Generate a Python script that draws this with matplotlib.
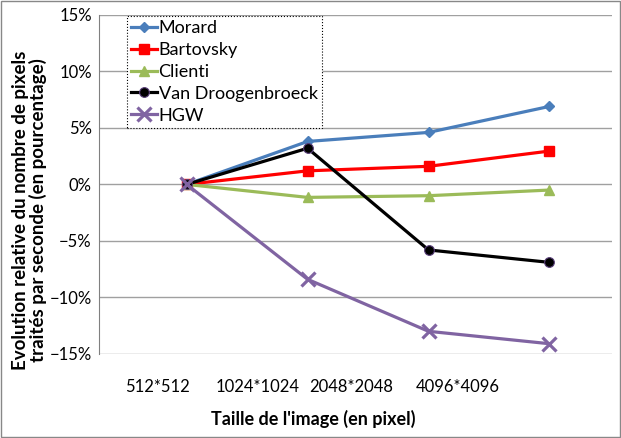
import matplotlib.pyplot as plt
from matplotlib.ticker import PercentFormatter

plt.rcParams['font.family'] = ['Lato', 'DejaVu Sans']

sizes = ['512*512', '1024*1024', '2048*2048', '4096*4096']
morard = [0.0, 3.8, 4.6, 6.9]
bartovsky = [0.0, 1.2, 1.6, 2.95]
clienti = [0.0, -1.15, -1.0, -0.5]
van_droog = [0.0, 3.2, -5.8, -6.9]
hgw = [0.0, -8.4, -13.0, -14.1]

# label positions as they sit in the original (shifted left of the points)
label_pos = [-0.24, 0.59, 1.36, 2.24]

fig = plt.figure(figsize=(6.21, 4.38), dpi=100)
ax = fig.add_axes([0.159, 0.192, 0.827, 0.774])

x = range(len(sizes))
ax.plot(x, morard, '-D', color='#4A7EBB', lw=2.3, ms=5, label='Morard', zorder=3)
ax.plot(x, bartovsky, '-s', color='#FF0000', lw=2.3, ms=6.5, label='Bartovsky', zorder=3)
ax.plot(x, clienti, '-^', color='#9BBB59', lw=2.3, ms=7, label='Clienti', zorder=3)
ax.plot(x, van_droog, '-o', color='black', mec='#5A3F7A', mew=0.8, lw=2.3, ms=7,
        label='Van Droogenbroeck', zorder=3)
ax.plot(x, hgw, '-x', color='#8064A2', lw=2.3, ms=10, mew=2.3, label='HGW', zorder=4)

ax.set_xlim(-0.727, 3.52)
ax.set_ylim(-15, 15)
ax.set_yticks(range(-15, 16, 5))
ax.yaxis.set_major_formatter(PercentFormatter(decimals=0))
ax.set_xticks(label_pos)
ax.set_xticklabels(sizes)
ax.tick_params(axis='x', length=0, pad=18, labelsize=12)
ax.tick_params(axis='y', length=0, pad=5, labelsize=12)
ax.grid(axis='y', color='#A0A0A0', lw=1)
ax.set_axisbelow(True)
for s in ['top', 'right', 'bottom']:
    ax.spines[s].set_visible(False)
ax.spines['left'].set_color('#808080')

ax.set_xlabel("Taille de l'image (en pixel)", fontweight='bold', fontsize=13)
ax.xaxis.set_label_coords(0.417, -0.165)
ax.set_ylabel('Evolution relative du nombre de pixels\ntraités par seconde (en pourcentage)',
              fontweight='bold', fontsize=13.5, linespacing=1.0)
ax.yaxis.set_label_coords(-0.1, 0.425)

leg = ax.legend(loc='upper left', bbox_to_anchor=(0.055, 0.997), borderaxespad=0,
                fancybox=False, framealpha=1, fontsize=13, handlelength=1.4,
                handletextpad=0.1, labelspacing=0.32, borderpad=0.25)
leg.get_frame().set_edgecolor('black')
leg.get_frame().set_linestyle(':')
leg.get_frame().set_linewidth(0.8)

fig.patches.append(plt.Rectangle((0.002, 0.002), 0.996, 0.996, transform=fig.transFigure,
                                 fill=False, edgecolor='#888888', lw=1))

fig.savefig('out.png', dpi=100)
